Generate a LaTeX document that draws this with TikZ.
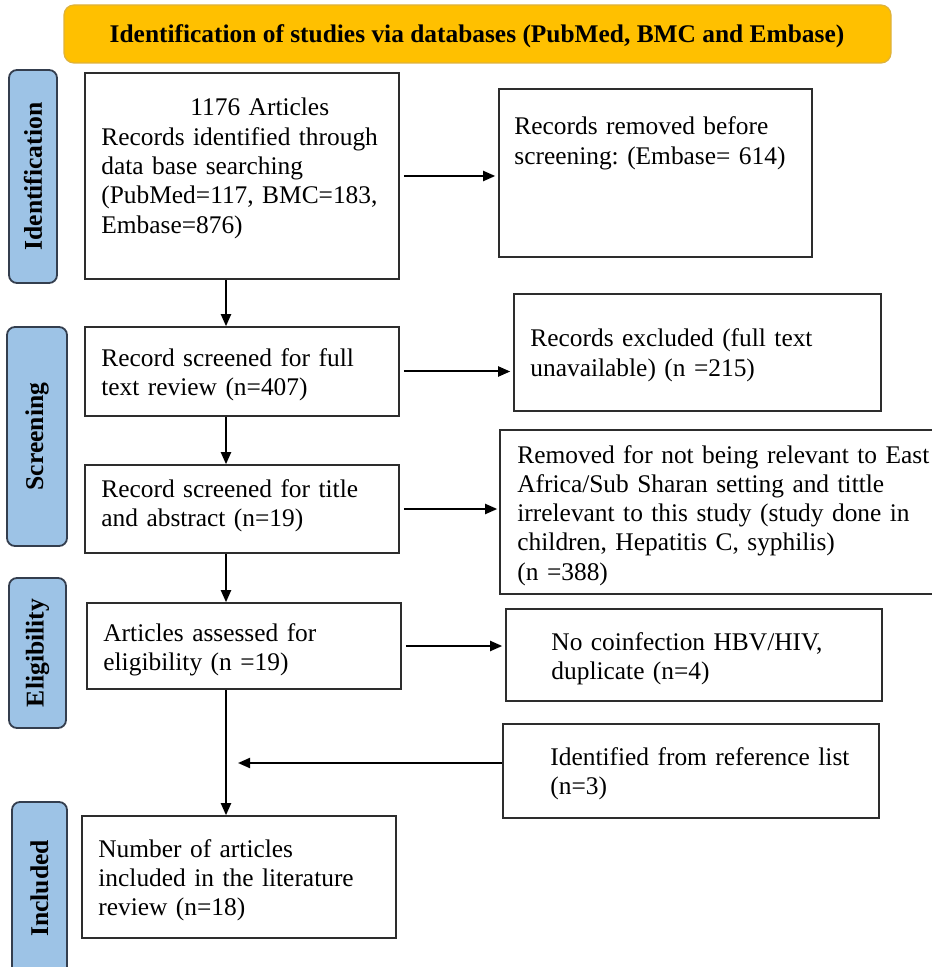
\documentclass[tikz,border=0pt]{standalone}
\usepackage{fontspec}
\setmainfont{Liberation Serif}
\usepackage{xcolor}
\usetikzlibrary{positioning, calc, arrows.meta}
\frenchspacing

\definecolor{hdrfill}{RGB}{255,192,0}
\definecolor{hdrline}{RGB}{222,178,60}
\definecolor{sidefill}{RGB}{157,195,230}
\definecolor{sideline}{RGB}{52,62,78}
\definecolor{boxline}{RGB}{45,45,45}

\begin{document}
\begin{tikzpicture}[x=0.5pt, y=-0.5pt,
    box/.style={draw=boxline, line width=0.8pt, inner sep=0pt},
    txt/.style={inner sep=0pt, anchor=base west, align=left, text width=215pt,
      font=\fontsize{12.7}{14.65}\selectfont},
    phase/.style={draw=sideline, line width=0.9pt, fill=sidefill, rounded corners=4pt,
      rotate=90, inner sep=0pt, font=\fontsize{12.8}{14}\selectfont\bfseries},
    flow/.style={-{Triangle[length=6pt,width=5pt]}, line width=1pt}]

  \useasboundingbox (0,0) rectangle (931,967);

  % ==========================================
  % Header
  % ==========================================
  \node[draw=hdrline, line width=0.6pt, fill=hdrfill, rounded corners=5pt,
    minimum width=413.5pt, minimum height=29pt] (header) at (477.5,34) {};
  \node[anchor=base, inner sep=0pt, font=\fontsize{12.7}{14}\selectfont\bfseries]
    (header-t) at (477,43) {Identification of studies via databases (PubMed, BMC and Embase)};

  % ==========================================
  % Phase labels (left)
  % ==========================================
  \node[phase, minimum width=106.5pt, minimum height=24pt] (identification) at (33,176.5) {Identification};
  \node[phase, minimum width=109.5pt, minimum height=30pt] (screening) at (37,436.5) {Screening};
  \node[phase, minimum width=75pt, minimum height=28.5pt] (eligibility) at (37.5,653) {Eligibility};
  \node[phase, minimum width=86.5pt, minimum height=27.5pt] (included) at (39.5,888.5) {Included};

  % ==========================================
  % Main column
  % ==========================================
  \node[box, minimum width=157pt, minimum height=103pt] (recid) at (242,176) {};
  \node[txt] (recid-t) at (101,116) {\hspace*{44.5pt}1176 Articles\\
    Records identified through\\ data base searching\\
    (PubMed=117, BMC=183,\\ Embase=876)};

  \node[box, minimum width=157pt, minimum height=44.5pt] (fulltext) at (242,371.5) {};
  \node[txt] (fulltext-t) at (101,366) {Record screened for full\\ text review (n=407)};

  \node[box, minimum width=157pt, minimum height=44pt] (titleabs) at (242,509) {};
  \node[txt] (titleabs-t) at (101,497) {Record screened for title\\ and abstract (n=19)};

  \node[box, minimum width=157pt, minimum height=43pt] (eligible) at (244,646) {};
  \node[txt] (eligible-t) at (103,641) {Articles assessed for\\ eligibility (n =19)};

  \node[box, minimum width=157pt, minimum height=61pt] (inclrev) at (239,877) {};
  \node[txt] (inclrev-t) at (98,857) {Number of articles\\ included in the literature\\ review (n=18)};

  % ==========================================
  % Right column
  % ==========================================
  \node[box, minimum width=156.5pt, minimum height=84pt] (removed) at (655.5,173) {};
  \node[txt] (removed-t) at (514,135) {Records removed before\\ screening: (Embase= 614)};

  \node[box, minimum width=183.5pt, minimum height=58.5pt] (excluded) at (697.5,352.5) {};
  \node[txt] (excluded-t) at (530,347) {Records excluded (full text\\ unavailable) (n =215)};

  \node[box, minimum width=216.5pt, minimum height=82pt] (notrel) at (716.5,512) {};
  \node[txt] (notrel-t) at (517,463) {Removed for not being relevant to East\\
    Africa/Sub Sharan setting and tittle\\ irrelevant to this study (study done in\\
    children, Hepatitis C, syphilis)\\ (n =388)};

  \node[box, minimum width=188pt, minimum height=46pt] (nocoinf) at (694,655) {};
  \node[txt] (nocoinf-t) at (551,650) {No coinfection HBV/HIV,\\ duplicate (n=4)};

  \node[box, minimum width=188pt, minimum height=47pt] (reflist) at (691,771) {};
  \node[txt] (reflist-t) at (550,765) {Identified from reference list\\ (n=3)};

  % ==========================================
  % Connectors
  % ==========================================
  \draw[flow] ([xshift=-8pt]recid.south) -- ([xshift=-8pt]fulltext.north);
  \draw[flow] ([xshift=-8pt]fulltext.south) -- ([xshift=-8pt]titleabs.north);
  \draw[flow] ([xshift=-8pt]titleabs.south) -- ([xshift=-9pt]eligible.north);
  \draw[flow] ([xshift=-9pt]eligible.south) -- ([xshift=-6.5pt]inclrev.north);

  \draw[flow, shorten >=1.5pt] ([xshift=2pt]recid.east) -- (recid.east -| removed.west);
  \draw[flow, shorten >=1.5pt] ([xshift=2pt]fulltext.east) -- (fulltext.east -| excluded.west);
  \draw[flow, shorten >=1pt] ([xshift=2pt]titleabs.east) -- (titleabs.east -| notrel.west);
  \draw[flow, shorten >=1.5pt] ([xshift=2pt]eligible.east) -- (eligible.east -| nocoinf.west);

  \coordinate (merge) at (226,763);
  \draw[flow] ([yshift=4pt]reflist.west) -- ([xshift=6pt]merge);

\end{tikzpicture}
\end{document}
